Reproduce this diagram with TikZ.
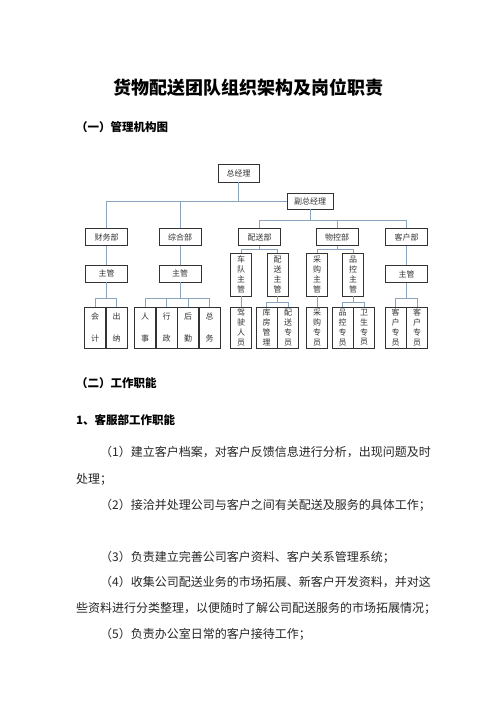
\documentclass[tikz,border=0pt]{standalone}
\usepackage{fontspec}
\newfontfamily\cjk{Noto Sans CJK SC}
\usetikzlibrary{positioning,shadows}
\definecolor{linkblue}{RGB}{138,164,190}
\begin{document}
\begin{tikzpicture}
    [x=1pt, y=-1pt, node distance=0pt,
     every node/.style={inner sep=0pt, font=\cjk},
     box/.style={draw=black!80, line width=0.5pt, fill=white,
       minimum width=42pt, minimum height=17pt, align=center,
       text=black!80, font=\cjk\fontsize{8}{9.8}\selectfont,
       drop shadow={shadow xshift=0.8pt, shadow yshift=-0.8pt, fill=black!40}},
     tall/.style={box, minimum width=21pt, minimum height=43pt},
     low/.style={box, minimum width=21pt, minimum height=41pt},
     link/.style={draw=linkblue, line width=0.8pt},
     head/.style={anchor=west, font=\cjk\bfseries\fontsize{11.5}{14}\selectfont},
     para/.style={anchor=west, text=black!85, font=\cjk\fontsize{12}{14}\selectfont}]

    \fill[white] (0,0) rectangle (496,702);
    \useasboundingbox (0,0) rectangle (496,702);

    % headings
    \node (title) at (248,88) {\bfseries\fontsize{18}{20}\selectfont 货物配送团队组织架构及岗位职责};
    \node (sec1) [head] at (76,127) {（一）管理机构图};

    % top of the chart
    \node (zjl) [box, minimum width=41pt, minimum height=18pt] at (238.5,173) {总经理};
    \node (fzjl) [box, minimum width=46pt, minimum height=16pt] at (310,201) {副总经理};

    \node (cwb) [box] at (106.5,237) {财务部};
    \node (zhb) [box] at (180,237) {综合部};
    \node (psb) [box] at (259.5,237) {配送部};
    \node (wkb) [box] at (337,237) {物控部};
    \node (khb) [box] at (406.5,237) {客户部};

    % supervisors
    \node (cwzg) [box] at (106.5,273.5) {主管};
    \node (zhzg) [box] at (180,273.5) {主管};
    \node (cdzg) [tall] at (241,274.5) {车\\队\\主\\管};
    \node (pszg) [tall] at (277.5,274.5) {配\\送\\主\\管};
    \node (cgzg) [tall] at (317,274.5) {采\\购\\主\\管};
    \node (pkzg) [tall] at (353,274.5) {品\\控\\主\\管};
    \node (khzg) [box] at (406.5,274) {主管};

    % staff
    \node (kj) [low] at (95,327.5) {会\\[12pt]计};
    \node (cn) [low, right=of kj] {出\\[12pt]纳};
    \node (rs) [low] at (145,327.5) {人\\[12pt]事};
    \node (xz) [low, right=of rs] {行\\[12pt]政};
    \node (hq) [low, right=of xz] {后\\[12pt]勤};
    \node (zw) [low, right=of hq] {总\\[12pt]务};
    \node (jsry) [low] at (241,327.5) {驾\\驶\\人\\员};
    \node (kfgl) [low] at (266.5,327.5) {库\\房\\管\\理};
    \node (pszy) [low, right=of kfgl] {配\\送\\专\\员};
    \node (cgzy) [low] at (317,327.5) {采\\购\\专\\员};
    \node (pkzy) [low] at (342.5,327.5) {品\\控\\专\\员};
    \node (wszy) [low, right=of pkzy] {卫\\生\\专\\员};
    \node (khzy1) [low] at (395.5,327.5) {客\\户\\专\\员};
    \node (khzy2) [low, right=of khzy1] {客\\户\\专\\员};

    % bus levels
    \coordinate (b2) at (0,220);
    \coordinate (b3) at (0,249);
    \coordinate (b4) at (0,298);
    \coordinate (b5) at (0,302);

    \draw[link] (zjl) -- (zjl |- fzjl.west);
    \draw[link] (cwb) |- (fzjl.west);
    \draw[link] (zhb) -- (zhb |- fzjl.west);

    \draw[link] (fzjl) -- (fzjl |- b2);
    \draw[link] (psb) |- (b2 -| khb) -- (khb);
    \draw[link] (wkb) -- (wkb |- b2);

    \draw[link] (cwb) -- (cwzg);
    \draw[link] (zhb) -- (zhb |- zhzg.north);
    \draw[link] (khb) -- (khzg);

    \draw[link] (psb) -- (psb |- b3);
    \draw[link] (cdzg) |- (b3 -| pszg) -- (pszg);
    \draw[link] (wkb) -- (wkb |- b3);
    \draw[link] (cgzg) |- (b3 -| pkzg) -- (pkzg);

    \draw[link] (cwzg) -- (cwzg |- b4);
    \draw[link] (kj) |- (b4 -| cn) -- (cn);
    \draw[link] (zhzg) -- (zhzg |- b4);
    \draw[link] (rs) |- (b4 -| zw) -- (zw);
    \draw[link] (xz) -- (xz |- b4);
    \draw[link] (hq) -- (hq |- b4);
    \draw[link] (cdzg) -- (jsry);
    \draw[link] (pszg) -- (pszg |- b5);
    \draw[link] (kfgl) |- (b5 -| pszy) -- (pszy);
    \draw[link] (cgzg) -- (cgzy);
    \draw[link] (pkzg) -- (pkzg |- b5);
    \draw[link] (pkzy) |- (b5 -| wszy) -- (wszy);
    \draw[link] (khzg) -- (khzg |- b4);
    \draw[link] (khzy1) |- (b4 -| khzy2) -- (khzy2);

    % text
    \node (sec2) [head] at (76,383) {（二）工作职能};
    \node (sec3) [head] at (76,420) {1、客服部工作职能};
    \node (p1) [para] at (100,452) {（1）建立客户档案，对客户反馈信息进行分析，出现问题及时};
    \node (p1b) [para] at (76,479) {处理；};
    \node (p2) [para] at (100,505) {（2）接洽并处理公司与客户之间有关配送及服务的具体工作；};
    \node (p3) [para] at (100,557) {（3）负责建立完善公司客户资料、客户关系管理系统；};
    \node (p4) [para] at (100,582) {（4）收集公司配送业务的市场拓展、新客户开发资料，并对这};
    \node (p4b) [para] at (76,608) {些资料进行分类整理，以便随时了解公司配送服务的市场拓展情况；};
    \node (p5) [para] at (100,634) {（5）负责办公室日常的客户接待工作；};
\end{tikzpicture}
\end{document}
